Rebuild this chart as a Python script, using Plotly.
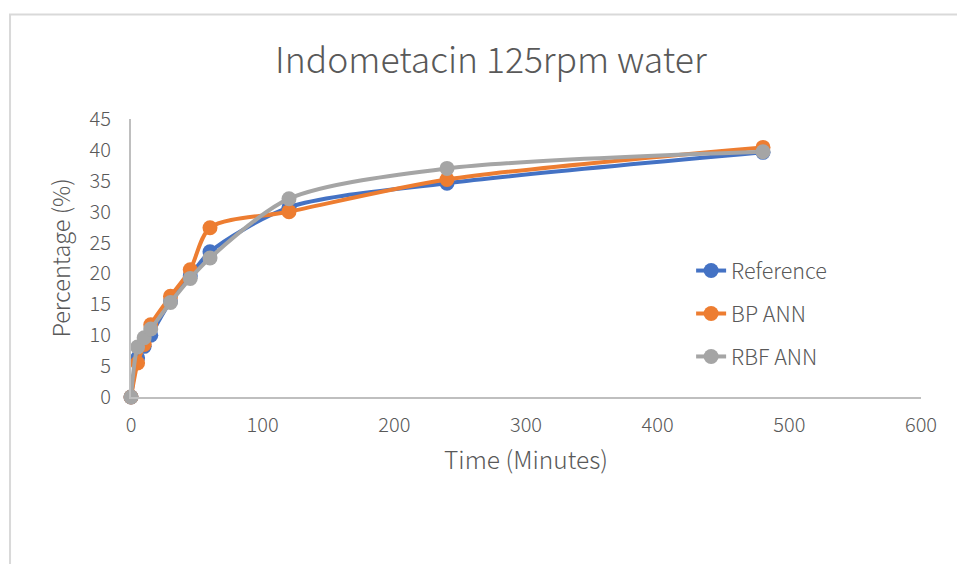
import plotly.graph_objects as go

# Dissolution time points (minutes)
time_min = [0, 5, 10, 15, 30, 45, 60, 120, 240, 480]

# Percentage dissolved for each model
reference = [0, 6.3, 8.2, 10.0, 15.5, 19.6, 23.5, 30.7, 34.6, 39.6]
bp_ann = [0, 5.5, 8.5, 11.7, 16.3, 20.6, 27.4, 30.0, 35.2, 40.4]
rbf_ann = [0, 8.1, 9.6, 11.0, 15.3, 19.2, 22.5, 32.1, 37.0, 39.7]

series_names = ["Reference", "BP ANN", "RBF ANN"]
series_values = [reference, bp_ann, rbf_ann]
series_colors = ["#4472C4", "#ED7D31", "#A5A5A5"]

x_ticks = [0, 100, 200, 300, 400, 500, 600]
y_ticks = [0, 5, 10, 15, 20, 25, 30, 35, 40, 45]

FONT = "Noto Sans CJK SC"
TEXT = "#595959"

fig = go.Figure()
for i, (name, vals, col) in enumerate(zip(series_names, series_values, series_colors)):
    fig.add_trace(go.Scatter(
        x=time_min, y=vals, name=name,
        mode="lines+markers",
        line=dict(color=col, width=4, shape="spline", smoothing=0.8),
        marker=dict(color=col, size=15),
        legendgroup=f"g{i}",
        cliponaxis=False,
    ))

W, H = 957, 564
L, R, T, B = 130.5, 36.3, 118.5, 166.5
PW = W - L - R

# light chart frame
fig.add_shape(type="rect", xref="paper", yref="paper",
              x0=(9.5 - L) / PW, x1=1.2,
              y0=-1.0, y1=1 + (T - 13.5) / (H - T - B),
              line=dict(color="#D9D9D9", width=2), fillcolor="rgba(0,0,0,0)",
              layer="below")

fig.update_layout(
    width=W, height=H,
    margin=dict(l=L, r=R, t=T, b=B, pad=0),
    paper_bgcolor="white", plot_bgcolor="white",
    font=dict(family=FONT, color=TEXT, size=20, weight=300),
    title=dict(text="Indometacin 125rpm water", x=(490.5 - L) / PW, xanchor="center",
               y=1 - 61 / H, yanchor="middle", xref="paper",
               font=dict(family=FONT, size=35.5, color=TEXT, weight=300)),
    xaxis=dict(range=[0, 600], tickvals=x_ticks, showgrid=False, zeroline=False,
               showline=True, linecolor="#BFBFBF", linewidth=2,
               ticks="", ticklabelstandoff=9,
               tickfont=dict(size=20, color=TEXT, weight=300),
               title=dict(text="Time (Minutes)", font=dict(size=24.5, color=TEXT, weight=300), standoff=15)),
    yaxis=dict(range=[0, 45], tickvals=y_ticks, showgrid=False, zeroline=False,
               showline=True, linecolor="#BFBFBF", linewidth=2,
               ticks="", ticklabelstandoff=14,
               tickfont=dict(size=20, color=TEXT, weight=300),
               title=dict(text="Percentage (%)", font=dict(size=23.5, color=TEXT, weight=300), standoff=12)),
    legend=dict(x=0.709, y=0.5285, xanchor="left", yanchor="top",
                font=dict(size=21.5, color=TEXT, weight=300), tracegroupgap=12,
                bgcolor="rgba(0,0,0,0)"),
)

fig.write_html("out.html")
